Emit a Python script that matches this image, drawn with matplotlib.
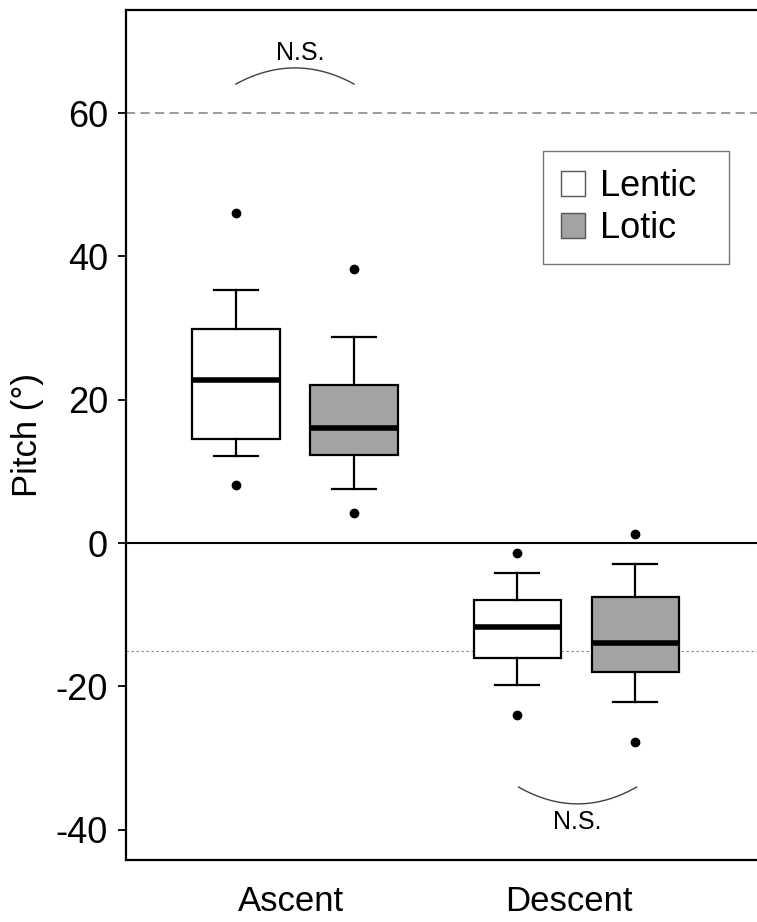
import numpy as np
import matplotlib.pyplot as plt
from matplotlib.patches import Patch

plt.rcParams['font.family'] = ['Liberation Sans', 'DejaVu Sans']

# box statistics (degrees)
groups = ['Ascent', 'Descent']
habitats = ['Lentic', 'Lotic']
colors = ['white', '#a3a3a3']

med = {'Lentic': [22.7, -11.7], 'Lotic': [16.0, -13.9]}
q1 = {'Lentic': [14.5, -16.1], 'Lotic': [12.3, -18.0]}
q3 = {'Lentic': [29.8, -7.9], 'Lotic': [22.1, -7.6]}
whislo = {'Lentic': [12.2, -19.8], 'Lotic': [7.5, -22.2]}
whishi = {'Lentic': [35.3, -4.2], 'Lotic': [28.7, -2.9]}
fliers = {'Lentic': [[46.0, 8.1], [-1.4, -24.0]],
          'Lotic': [[38.3, 4.2], [1.3, -27.8]]}

fig = plt.figure(figsize=(7.57, 9.22), dpi=100)
ax = fig.add_axes([0.1664, 0.0672, 0.8336, 0.922])

offset = 0.21
for k, hab in enumerate(habitats):
    stats = []
    for g in range(len(groups)):
        stats.append(dict(med=med[hab][g], q1=q1[hab][g], q3=q3[hab][g],
                          whislo=whislo[hab][g], whishi=whishi[hab][g],
                          fliers=fliers[hab][g]))
    pos = np.arange(1, len(groups) + 1) + (k * 2 - 1) * offset
    ax.bxp(stats, positions=pos, widths=0.31, patch_artist=True,
           boxprops=dict(facecolor=colors[k], edgecolor='black', linewidth=1.6),
           medianprops=dict(color='black', linewidth=4),
           whiskerprops=dict(color='black', linewidth=1.6),
           capprops=dict(color='black', linewidth=1.6),
           flierprops=dict(marker='o', markerfacecolor='black',
                           markeredgecolor='black', markersize=6),
           manage_ticks=False, zorder=3)

# reference lines
ax.axhline(0, color='black', lw=1.5, zorder=2)
ax.axhline(60, color='#808080', lw=1.1, ls=(0, (6, 3.5)), zorder=1)
ax.axhline(-15, color='#808080', lw=0.8, ls=(0, (2, 2.5)), zorder=1)

# N.S. brackets
t = np.linspace(-1, 1, 60)
ax.plot(1 + 0.21 * t, 66.3 - 2.25 * t ** 2, color='#404040', lw=1)
ax.text(1.02, 68.4, 'N.S.', ha='center', va='center', fontsize=18)
ax.plot(2.005 + 0.21 * t, -36.4 + 2.35 * t ** 2, color='#404040', lw=1)
ax.text(2.005, -39.0, 'N.S.', ha='center', va='center', fontsize=18)

ax.set_xlim(0.399, 2.643)
ax.set_ylim(-44.24, 74.39)
ax.set_yticks([-40, -20, 0, 20, 40, 60])
ax.set_yticklabels(['-40', '-20', '0', '20', '40', '60'])
ax.set_xticks([0.987, 1.974])
ax.set_xticklabels(groups)
ax.tick_params(axis='y', labelsize=26, length=6, width=1.3, direction='out', pad=7)
ax.tick_params(axis='x', labelsize=25, length=0, pad=18)
ax.set_ylabel('Pitch (°)', fontsize=25, labelpad=8)

for s in ['left', 'top', 'bottom']:
    ax.spines[s].set_linewidth(1.6)
ax.spines['right'].set_visible(False)

# legend
handles = [Patch(facecolor=c, edgecolor='#555555', linewidth=1) for c in colors]
leg = ax.legend(handles, habitats, loc='upper left', mode='expand',
                bbox_to_anchor=(0.661, 0.5, 0.295, 0.334), fontsize=26,
                frameon=True, fancybox=False, edgecolor='#555555',
                handlelength=0.67, handleheight=0.67, handletextpad=0.42,
                borderpad=0.5, labelspacing=0.2, borderaxespad=0)
leg.get_frame().set_linewidth(1)

fig.savefig('out.png', dpi=100)
